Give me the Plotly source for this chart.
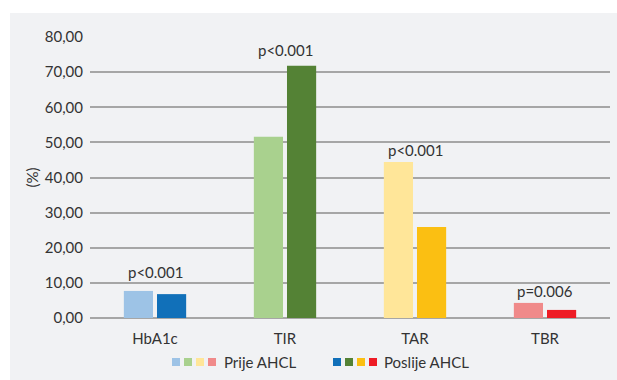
import plotly.graph_objects as go

categories = ["HbA1c", "TIR", "TAR", "TBR"]
prije = [7.7, 51.6, 44.4, 4.3]
poslije = [6.8, 71.8, 25.9, 2.3]
p_labels = ["p<0.001", "p<0.001", "p<0.001", "p=0.006"]
# vertical pixel offset of each p-value label above its taller bar
p_label_shift = [19, 16, 12, 12]

prije_colors = ["#9DC3E6", "#A9D18E", "#FFE699", "#F08A8A"]
poslije_colors = ["#1170B9", "#548235", "#FBBF12", "#EE1C25"]

y_ticks = [0, 10, 20, 30, 40, 50, 60, 70, 80]
y_ticktext = [f"{v:.2f}".replace(".", ",") for v in y_ticks]

FONT = "Lato, 'Open Sans', sans-serif"
TXT = "#333333"
PANEL = "#F1F2F4"

W, H = 617, 380
L, R, T, B = 90, 7, 37, 62
pw, ph = W - L - R, H - T - B


def px_x(x):
    return (x - L) / pw


def px_y(y):
    return (H - B - y) / ph


fig = go.Figure()
fig.add_bar(x=categories, y=prije, name="Prije AHCL",
            marker=dict(color=prije_colors, line=dict(width=0)))
fig.add_bar(x=categories, y=poslije, name="Poslije AHCL",
            marker=dict(color=poslije_colors, line=dict(width=0)))

annotations = []
for cat, a, b, lab, sh in zip(categories, prije, poslije, p_labels, p_label_shift):
    annotations.append(dict(x=cat, y=max(a, b), text=lab, showarrow=False,
                            yanchor="middle", yshift=sh,
                            font=dict(family=FONT, size=15, color=TXT)))

shapes = [dict(type="rect", xref="paper", yref="paper", layer="below",
               x0=px_x(10), x1=px_x(W + 5), y0=px_y(H + 5), y1=px_y(13),
               fillcolor=PANEL, line=dict(width=0))]


# custom legend: four colour swatches per series
def swatches(colors, x_start, label, label_x):
    for i, c in enumerate(colors):
        x0 = x_start + i * 12
        shapes.append(dict(type="rect", xref="paper", yref="paper",
                           x0=px_x(x0), x1=px_x(x0 + 8),
                           y0=px_y(366), y1=px_y(358),
                           fillcolor=c, line=dict(width=0)))
    annotations.append(dict(x=px_x(label_x), y=px_y(362), xref="paper", yref="paper",
                            text=label, showarrow=False, xanchor="left", yanchor="middle",
                            font=dict(family=FONT, size=15, color=TXT)))


swatches(prije_colors, 172, "Prije AHCL", 222)
swatches(poslije_colors, 333, "Poslije AHCL", 382)

fig.update_layout(
    width=W, height=H,
    margin=dict(l=L, r=R, t=T, b=B),
    paper_bgcolor="white",
    plot_bgcolor=PANEL,
    barmode="group",
    bargap=0.49,
    bargroupgap=0.12,
    showlegend=False,
    font=dict(family=FONT, size=15, color=TXT),
    shapes=shapes,
    annotations=annotations,
    xaxis=dict(showgrid=False, showline=False, ticks="", tickfont=dict(size=15),
               ticklabelstandoff=10),
    yaxis=dict(range=[0, 80], tickvals=y_ticks, ticktext=y_ticktext,
               showgrid=True, gridcolor="#A6A6A6", gridwidth=1.5,
               zeroline=True, zerolinecolor="#A6A6A6", zerolinewidth=1.5,
               ticks="", ticklabelstandoff=6, tickfont=dict(size=15),
               title=dict(text="(%)", standoff=2, font=dict(size=15))),
)

fig.write_html("out.html")
